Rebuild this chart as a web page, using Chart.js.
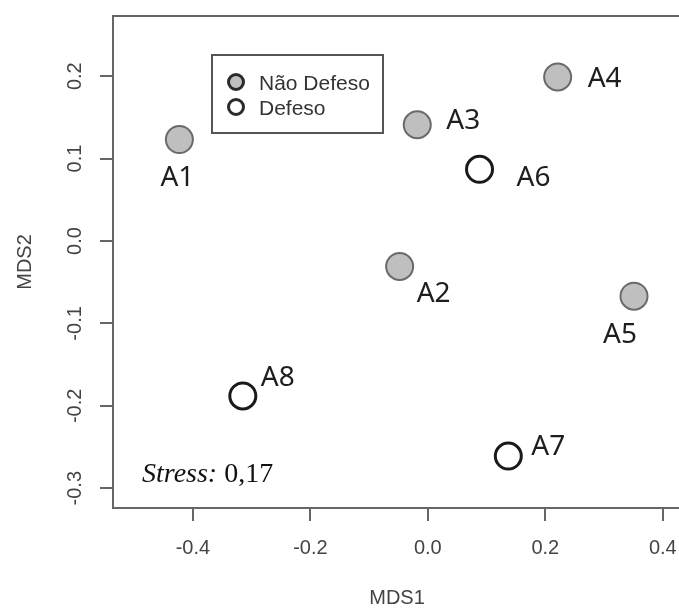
<!DOCTYPE html>
<html>
<head>
<meta charset="utf-8">
<title>NMDS</title>
<script src="https://cdn.jsdelivr.net/npm/chart.js@4/dist/chart.umd.min.js"></script>
<style>
    html, body { margin: 0; padding: 0; background: #fff; overflow: hidden; }
    canvas { display: block; }
</style>
</head>
<body>
<canvas id="nmdsChart" width="684" height="610"></canvas>
<script>
// data
const sites = ['A1', 'A2', 'A3', 'A4', 'A5', 'A6', 'A7', 'A8'];
const mds1 = [-0.423, -0.048, -0.018, 0.221, 0.351, 0.088, 0.137, -0.315];
const mds2 = [0.123, -0.031, 0.141, 0.199, -0.067, 0.087, -0.261, -0.188];
const period = ['Não Defeso', 'Não Defeso', 'Não Defeso', 'Não Defeso', 'Não Defeso', 'Defeso', 'Defeso', 'Defeso'];
const groups = ['Não Defeso', 'Defeso'];
const xTicks = [-0.4, -0.2, 0.0, 0.2, 0.4];
const yTicks = [-0.3, -0.2, -0.1, 0.0, 0.1, 0.2];
const xRange = [-0.536, 0.431];
const yRange = [-0.324, 0.273];
const stressValue = '0,17';

// where each site label sits relative to its point (px)
const labelOffsets = [[-2, 36], [34, 25], [46, -6], [47, 0], [-14, 37], [54, 7], [40, -11], [35, -20]];

const groupStyle = {
    'Não Defeso': { fill: '#bfbfbf', stroke: '#6a6a6a', width: 2, radius: 13.5 },
    'Defeso': { fill: '#ffffff', stroke: '#1a1a1a', width: 3, radius: 13 }
};

const axisColor = '#666';
const textColor = '#444';

const datasets = groups.map(g => {
    const pts = [];
    sites.forEach((s, i) => {
        if (period[i] === g) pts.push({ x: mds1[i], y: mds2[i], site: s, idx: i });
    });
    const st = groupStyle[g];
    return {
        label: g,
        data: pts,
        pointRadius: st.radius,
        pointBackgroundColor: st.fill,
        pointBorderColor: st.stroke,
        pointBorderWidth: st.width
    };
});

const decorPlugin = {
    id: 'decor',
    afterDraw(chart) {
        const ctx = chart.ctx;
        const area = chart.chartArea;
        const yScale = chart.scales.y;

        ctx.save();
        // plot box
        ctx.strokeStyle = axisColor;
        ctx.lineWidth = 2;
        ctx.strokeRect(area.left, area.top, area.right - area.left, area.bottom - area.top);

        // rotated y tick labels, R style
        ctx.fillStyle = textColor;
        ctx.font = '20px "Liberation Sans", Arial, sans-serif';
        ctx.textAlign = 'center';
        ctx.textBaseline = 'middle';
        yTicks.forEach(v => {
            const py = yScale.getPixelForValue(v);
            ctx.save();
            ctx.translate(area.left - 38.5, py);
            ctx.rotate(-Math.PI / 2);
            ctx.fillText(v.toFixed(1), 0, 1);
            ctx.restore();
        });

        // site labels
        const labelSize = 28;
        ctx.font = labelSize + 'px "Noto Sans", sans-serif';
        ctx.fillStyle = '#1e1e1e';
        ctx.textAlign = 'center';
        ctx.textBaseline = 'alphabetic';
        chart.data.datasets.forEach((ds, di) => {
            const meta = chart.getDatasetMeta(di);
            meta.data.forEach((el, j) => {
                const p = ds.data[j];
                const off = labelOffsets[p.idx];
                ctx.fillText(p.site, el.x + off[0], el.y + off[1] + labelSize * 0.714 / 2);
            });
        });

        // legend box
        const lx = area.left + 99, ly = area.top + 39, lw = 171, lh = 78;
        ctx.fillStyle = '#fff';
        ctx.fillRect(lx, ly, lw, lh);
        ctx.strokeStyle = '#555';
        ctx.lineWidth = 2;
        ctx.strokeRect(lx, ly, lw, lh);
        ctx.font = '21px "Liberation Sans", Arial, sans-serif';
        ctx.textAlign = 'left';
        chart.data.datasets.forEach((ds, di) => {
            const cy = ly + 27 + di * 25;
            ctx.beginPath();
            ctx.arc(lx + 24, cy, 7.5, 0, Math.PI * 2);
            ctx.fillStyle = ds.pointBackgroundColor;
            ctx.fill();
            ctx.lineWidth = 3;
            ctx.strokeStyle = '#2a2a2a';
            ctx.stroke();
            ctx.fillStyle = '#333';
            ctx.fillText(ds.label, lx + 47, cy + 21 * 0.716 / 2);
        });

        // stress annotation
        const sx = area.left + 29, sy = area.bottom - 26;
        ctx.fillStyle = '#111';
        ctx.font = 'italic 28px "Liberation Serif", "Times New Roman", serif';
        ctx.fillText('Stress:', sx, sy);
        const w = ctx.measureText('Stress:').width;
        ctx.font = '28px "Liberation Serif", "Times New Roman", serif';
        ctx.fillText(' ' + stressValue, sx + w, sy);
        ctx.restore();
    }
};

const ctx = document.getElementById('nmdsChart').getContext('2d');
new Chart(ctx, {
    type: 'scatter',
    data: { datasets: datasets },
    options: {
        responsive: false,
        animation: false,
        events: [],
        layout: { autoPadding: false, padding: { top: 16, right: 3, left: 0, bottom: 0 } },
        plugins: {
            legend: { display: false },
            tooltip: { enabled: false }
        },
        scales: {
            x: {
                type: 'linear',
                min: xRange[0],
                max: xRange[1],
                afterBuildTicks: scale => { scale.ticks = xTicks.map(v => ({ value: v })); },
                afterFit: scale => {
                    scale.height = 102;
                    // the 0.4 label runs off the edge in the original, no extra room for it
                    scale.paddingLeft = 0;
                    scale.paddingRight = 0;
                },
                border: { display: false },
                grid: { drawOnChartArea: false, drawTicks: true, tickLength: 13, color: axisColor, lineWidth: 2 },
                ticks: {
                    padding: 15,
                    color: textColor,
                    font: { family: '"Liberation Sans", Arial, sans-serif', size: 20 },
                    callback: v => v.toFixed(1)
                },
                title: {
                    display: true,
                    text: 'MDS1',
                    color: textColor,
                    font: { family: '"Liberation Sans", Arial, sans-serif', size: 20 },
                    padding: { top: 1, bottom: 0 }
                }
            },
            y: {
                type: 'linear',
                min: yRange[0],
                max: yRange[1],
                afterBuildTicks: scale => { scale.ticks = yTicks.map(v => ({ value: v })); },
                afterFit: scale => {
                    scale.width = 113;
                    scale.paddingTop = 0;
                    scale.paddingBottom = 0;
                },
                border: { display: false },
                grid: { drawOnChartArea: false, drawTicks: true, tickLength: 13, color: axisColor, lineWidth: 2 },
                ticks: { display: false },
                title: {
                    display: true,
                    text: 'MDS2',
                    color: textColor,
                    font: { family: '"Liberation Sans", Arial, sans-serif', size: 20 },
                    padding: { top: 13, bottom: 0 }
                }
            }
        }
    },
    plugins: [decorPlugin]
});
</script>
</body>
</html>
